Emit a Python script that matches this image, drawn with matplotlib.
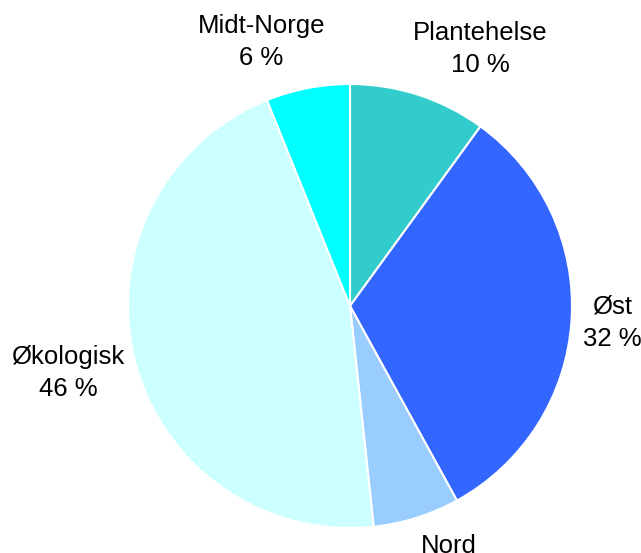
import matplotlib.pyplot as plt

# Data (clockwise from 12 o'clock)
categories = ['Plantehelse', 'Øst', 'Nord', 'Økologisk', 'Midt-Norge']
values = [10.0, 32.0, 6.3, 45.6, 6.1]
colors = ['#33CCCC', '#3366FF', '#99CCFF', '#CCFFFF', '#00FFFF']

# Label positions in pie units (radius = 1)
label_pos = [(0.586, 1.158), (1.180, -0.077), (0.446, -1.153),
             (-1.270, -0.302), (-0.399, 1.189)]

plt.rcParams['font.family'] = ['Liberation Sans', 'DejaVu Sans']

fig = plt.figure(figsize=(6.41, 5.53), dpi=100)
ax = fig.add_axes([0, 0, 1, 1])

ax.pie(values, colors=colors, startangle=90, counterclock=False,
       wedgeprops={'edgecolor': 'white', 'linewidth': 1.5})

total = sum(values)
for name, val, (x, y) in zip(categories, values, label_pos):
    ax.text(x, y, f'{name}\n{val / total * 100:.0f} %', ha='center', va='center',
            fontsize=18.5, linespacing=1.45, color='black')

# Pie centre at (350, 306) px, radius 222 px
ax.set_xlim(-350 / 222, (641 - 350) / 222)
ax.set_ylim(-(553 - 306) / 222, 306 / 222)
ax.set_aspect('auto')
ax.axis('off')

fig.savefig('out.png', dpi=100)
